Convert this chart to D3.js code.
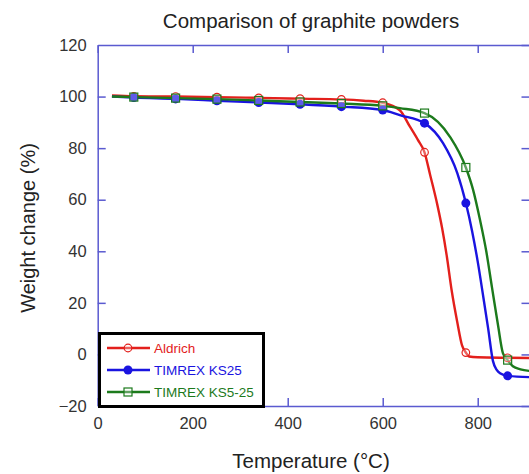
<!DOCTYPE html>
<html>
<head>
<meta charset="utf-8">
<script src="https://cdn.jsdelivr.net/npm/d3@7"></script>
<style>
  body { margin: 0; background: #fff; }
  svg { display: block; font-family: "Liberation Sans", Arial, sans-serif; }
</style>
</head>
<body>
<div id="chart"></div>
<script>
/* TGA curves: [temperature, weight change] */
var aldrich = [[30,100.4],[76,100.1],[164,100],[251,99.8],[339,99.5],[426,99.2],[513,98.9],[560,98.4],[600,97.6],
  [636,94.7],[657,88.4],[674,83.2],[688,78.4],[700,69.5],[715,58],[725,49],[735,38],[745,25],[757,12.5],
  [767,3.5],[775,0.7],[782,-0.8],[800,-1.1],[863,-1.3],[910,-1.4]];
var ks25 = [[30,100],[76,99.6],[164,99.1],[251,98.4],[339,97.7],[426,97.0],[513,96.1],[600,94.8],[636,92.8],
  [688,89.7],[727,81.9],[757,70.3],[775,58.7],[788,48],[800,36],[812,22],[822,10],[832,-2.5],[840,-6],
  [847,-7.3],[863,-8.3],[910,-8.8]];
var ks525 = [[30,100],[76,99.8],[164,99.4],[251,99.0],[339,98.5],[426,97.9],[513,97.3],[600,96.4],[636,95.5],
  [688,93.6],[742,84.3],[775,72.5],[790,64],[805,52],[818,40],[830,26],[843,11],[853,0.5],[863,-2.2],
  [874,-4.6],[890,-5.8],[910,-6.4]];
var markerTemps = [76, 164, 251, 339, 426, 513, 600, 688, 775, 863];
var seriesNames = ["Aldrich", "TIMREX KS25", "TIMREX KS5-25"];
var xTicks = [0, 200, 400, 600, 800];
var yTicks = [-20, 0, 20, 40, 60, 80, 100, 120];

(function() {
  var W = 529, H = 474;
  var left = 97.7, right = 529.5, top = 45, bottom = 406;
  var axisColor = "#5a5ad0";

  var series = [
    { name: seriesNames[0], data: aldrich, color: "#e3201c", marker: "open-circle" },
    { name: seriesNames[1], data: ks25,    color: "#1a14e0", marker: "dot" },
    { name: seriesNames[2], data: ks525,   color: "#1c7a1c", marker: "square" }
  ];

  var x = d3.scaleLinear().domain([0, 909]).range([left, right]);
  var y = d3.scaleLinear().domain([-20, 120]).range([bottom, top]);

  var svg = d3.select("#chart").append("svg")
    .attr("width", W).attr("height", H);

  // title
  svg.append("text")
    .attr("x", 311).attr("y", 28)
    .attr("text-anchor", "middle")
    .style("font-size", "20.5px").style("fill", "#222")
    .text("Comparison of graphite powders");

  // axes, ticks pointing inward on all four sides
  var axB = svg.append("g").attr("transform", "translate(0," + bottom + ")")
    .call(d3.axisBottom(x).tickValues(xTicks).tickSizeInner(-8).tickSizeOuter(0).tickPadding(11));
  var axT = svg.append("g").attr("transform", "translate(0," + top + ")")
    .call(d3.axisTop(x).tickValues(xTicks).tickSizeInner(-8).tickSizeOuter(0).tickFormat(""));
  var axL = svg.append("g").attr("transform", "translate(" + left + ",0)")
    .call(d3.axisLeft(y).tickValues(yTicks).tickSizeInner(-8).tickSizeOuter(0).tickPadding(11));
  var axR = svg.append("g").attr("transform", "translate(" + right + ",0)")
    .call(d3.axisRight(y).tickValues(yTicks).tickSizeInner(-8).tickSizeOuter(0).tickFormat(""));

  [axB, axT, axL, axR].forEach(function(g) {
    g.selectAll("path, line").style("stroke", axisColor).style("stroke-width", 1.5);
    g.selectAll("text").style("font-size", "16.5px").style("fill", "#333");
  });
  axL.selectAll(".tick").filter(function(d) { return d === 120 || d === -20; })
    .select("line").remove();

  // axis labels
  svg.append("text")
    .attr("x", 311).attr("y", 468)
    .attr("text-anchor", "middle")
    .style("font-size", "20.5px").style("fill", "#222")
    .text("Temperature (°C)");
  svg.append("text")
    .attr("transform", "translate(35," + 228 + ") rotate(-90)")
    .attr("text-anchor", "middle")
    .style("font-size", "20px").style("fill", "#222")
    .text("Weight change (%)");

  svg.append("clipPath").attr("id", "plotclip")
    .append("rect").attr("x", left).attr("y", top).attr("width", right - left).attr("height", bottom - top);

  var line = d3.line()
    .x(function(d) { return x(d[0]); })
    .y(function(d) { return y(d[1]); })
    .curve(d3.curveMonotoneX);

  var plot = svg.append("g").attr("clip-path", "url(#plotclip)");

  function drawMarker(g, s, cx, cy) {
    if (s.marker === "open-circle") {
      g.append("circle").attr("cx", cx).attr("cy", cy).attr("r", 3.8)
        .style("fill", "#fff").style("fill-opacity", 0.3).style("stroke", s.color).style("stroke-width", 1.2);
    } else if (s.marker === "dot") {
      g.append("circle").attr("cx", cx).attr("cy", cy).attr("r", 4.5)
        .style("fill", s.color);
    } else {
      g.append("rect").attr("x", cx - 4).attr("y", cy - 4).attr("width", 8).attr("height", 8)
        .style("fill", "#fff").style("fill-opacity", 0.3).style("stroke", s.color).style("stroke-width", 1.2);
    }
  }

  series.forEach(function(s) {
    plot.append("path").datum(s.data)
      .attr("d", line)
      .style("fill", "none").style("stroke", s.color).style("stroke-width", 2.4);
  });
  series.forEach(function(s) {
    var g = plot.append("g");
    s.data.filter(function(d) { return markerTemps.indexOf(d[0]) >= 0; })
      .forEach(function(d) { drawMarker(g, s, x(d[0]), y(d[1])); });
  });

  // legend
  var lg = svg.append("g");
  lg.append("rect").attr("x", 99.5).attr("y", 333.5).attr("width", 164).attr("height", 73)
    .style("fill", "#fff").style("stroke", "#000").style("stroke-width", 3);
  series.forEach(function(s, i) {
    var ly = 348 + i * 22;
    lg.append("line").attr("x1", 107).attr("x2", 150).attr("y1", ly).attr("y2", ly)
      .style("stroke", s.color).style("stroke-width", 2.4);
    drawMarker(lg, s, 128, ly);
    lg.append("text").attr("x", 154).attr("y", ly + 5)
      .style("font-size", "13.5px").style("fill", s.color)
      .text(s.name);
  });
})();
</script>
</body>
</html>
